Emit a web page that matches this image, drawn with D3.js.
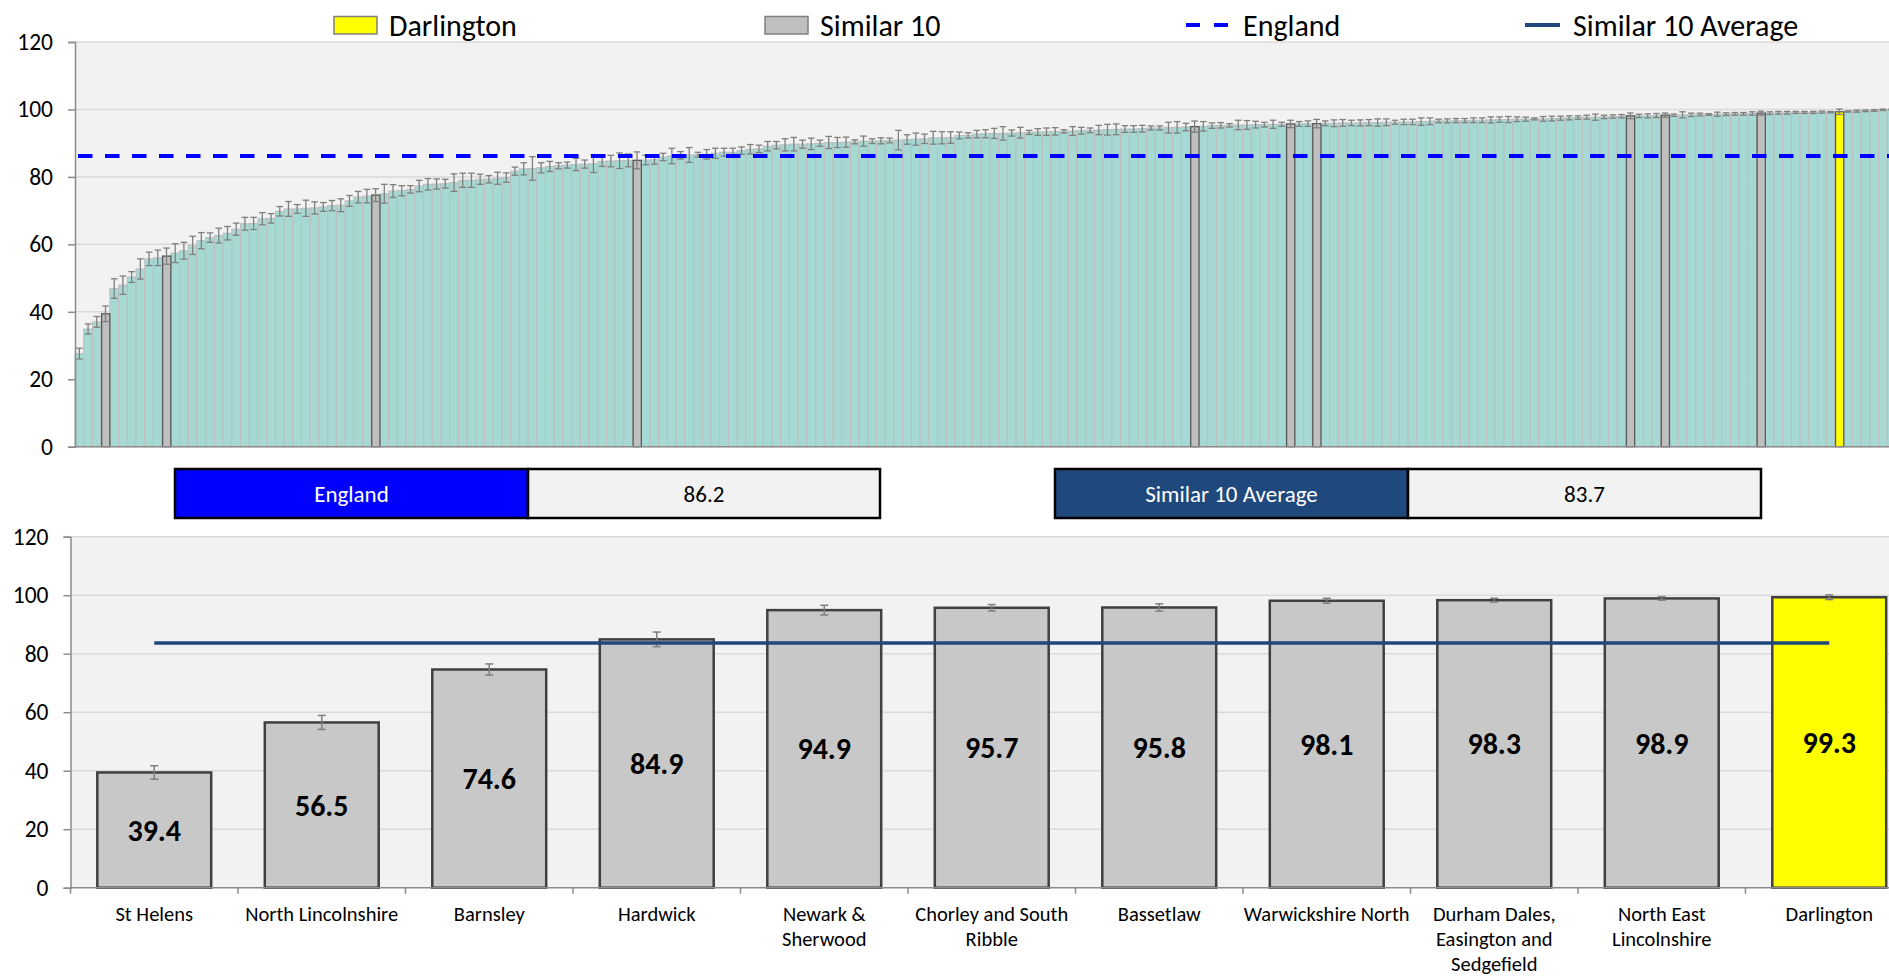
<!DOCTYPE html>
<html><head><meta charset="utf-8">
<script src="https://cdn.jsdelivr.net/npm/d3@7"></script>
<style>body{margin:0;background:#fff;}svg{display:block;}</style>
</head><body>
<svg id="chart" width="1889" height="976"></svg>
<script>
// ---------------- DATA ----------------
const allValues = [
27.6,34.9,37.0,39.4,46.9,47.9,50.3,52.7,55.7,56.0,
56.5,57.4,58.1,59.7,61.1,62.0,62.6,63.3,64.5,66.1,
66.2,67.6,67.7,69.8,70.5,70.5,70.7,70.8,71.1,71.5,
71.6,72.9,74.0,74.3,74.6,75.0,75.8,75.9,76.3,77.3,
77.8,77.9,78.0,78.3,79.0,79.0,79.3,79.3,79.6,79.8,
81.7,82.4,82.5,82.7,83.1,83.3,83.5,83.7,83.8,83.9,
84.6,84.7,84.8,84.9,84.9,85.0,85.1,85.9,86.2,86.4,
86.5,86.6,86.7,87.0,87.3,87.3,87.8,88.2,88.3,89.1,
89.4,89.5,89.7,89.7,89.8,90.0,90.2,90.2,90.3,90.4,
90.6,90.6,90.7,90.8,90.9,91.1,91.2,91.3,91.6,91.6,
91.7,92.3,92.3,92.7,92.8,92.9,92.9,93.0,93.1,93.2,
93.3,93.4,93.5,93.5,93.6,93.7,93.8,93.9,94.0,94.1,
94.2,94.2,94.3,94.5,94.5,94.6,94.7,94.8,94.9,95.0,
95.2,95.3,95.3,95.4,95.4,95.5,95.5,95.6,95.6,95.7,
95.7,95.8,95.8,95.9,95.9,96.0,96.0,96.0,96.1,96.1,
96.2,96.2,96.3,96.3,96.4,96.5,96.6,96.6,96.7,96.7,
96.8,96.8,96.9,97.0,97.0,97.1,97.1,97.2,97.2,97.3,
97.4,97.5,97.6,97.7,97.7,97.8,97.9,98.0,98.1,98.1,
98.1,98.2,98.3,98.3,98.4,98.4,98.5,98.5,98.6,98.6,
98.7,98.7,98.8,98.9,98.9,99.0,99.0,99.1,99.1,99.1,
99.2,99.2,99.3,99.4,99.5,99.6,99.7,99.9,100.0
];
const allCI = [
1.6,1.5,1.6,2.3,2.9,2.7,1.6,3.0,2.0,2.3,
2.4,2.8,2.5,2.7,2.4,1.4,2.2,2.0,1.8,1.9,
1.8,1.8,1.4,1.4,2.2,1.3,2.4,1.8,1.3,1.5,
1.9,1.6,1.7,2.0,1.9,2.8,1.9,1.5,1.1,1.7,
1.7,1.5,1.3,2.6,2.1,2.1,1.5,1.1,1.8,1.4,
1.2,1.8,3.5,1.5,1.5,0.9,0.9,1.8,1.2,2.6,
1.5,1.7,2.3,1.9,2.5,1.4,1.3,1.1,2.3,1.1,
2.2,0.7,1.4,1.5,1.2,1.2,1.1,1.4,1.1,1.4,
1.1,1.8,2.0,1.2,1.7,0.9,1.8,1.5,1.5,0.6,
1.5,0.7,0.9,0.7,2.9,1.4,1.8,1.4,1.9,1.8,
1.7,1.0,0.8,1.1,1.2,1.5,2.0,0.9,1.6,0.6,
1.0,1.1,1.1,0.5,1.3,1.0,0.7,1.4,1.6,1.6,
1.0,1.0,1.0,0.6,0.6,1.6,1.7,1.1,1.65,1.4,
0.8,0.8,0.5,1.4,1.3,1.0,0.7,1.2,0.6,1.1,
0.7,0.8,1.25,0.7,1.0,1.0,0.8,0.9,0.9,1.1,
1.0,0.6,0.8,0.8,1.1,1.0,0.5,0.6,0.6,0.6,
0.7,0.7,0.9,0.8,0.9,0.7,0.6,0.3,0.7,0.7,
0.6,0.6,0.5,0.6,0.9,0.5,0.5,0.5,0.85,0.5,
0.6,0.6,0.65,0.35,0.9,0.5,0.4,0.25,0.6,0.4,
0.4,0.4,0.5,0.6,0.4,0.4,0.4,0.3,0.3,0.3,
0.3,0.2,0.8,0.2,0.3,0.25,0.25,0.2,0.2
];
const similarNames = [
  ["St Helens"], ["North Lincolnshire"], ["Barnsley"], ["Hardwick"],
  ["Newark &", "Sherwood"], ["Chorley and South", "Ribble"], ["Bassetlaw"],
  ["Warwickshire North"], ["Durham Dales,", "Easington and", "Sedgefield"],
  ["North East", "Lincolnshire"], ["Darlington"]
];
const similarValues = [39.4, 56.5, 74.6, 84.9, 94.9, 95.7, 95.8, 98.1, 98.3, 98.9, 99.3];
const similarCI = [2.3, 2.4, 1.9, 2.5, 1.65, 1.1, 1.25, 0.85, 0.65, 0.6, 0.8];
const similarRanks = [3, 10, 34, 64, 128, 139, 142, 178, 182, 193, 202];
const englandValue = 86.2;
const similarAverage = 83.7;
const yTicks = [0, 20, 40, 60, 80, 100, 120];
const legendLabels = ["Darlington", "Similar 10", "England", "Similar 10 Average"];
const boxLabels = ["England", "Similar 10 Average"];

(function () {
// ---------------- STYLE ----------------
const FONT = "Carlito, Lato, 'Open Sans', sans-serif";
const C = {
  teal: "#a6d9d3", tealStroke: "#bdbdbd", plotBg: "#f2f2f2", grid: "#d9d9d9",
  axis: "#8c8c8c", grey: "#bfbfbf", greyStroke: "#595959", yellow: "#ffff00",
  err: "#7f7f7f", england: "#0000ff", avg: "#1f497d", barGrey: "#c8c8c8", barStroke: "#404040"
};
const svg = d3.select("#chart").style("font-family", FONT);
const darlingtonIdx = similarNames.length - 1;

// ---------------- TOP CHART ----------------
const T = {left: 75, top: 42, bottom: 446.7, step: 8.713};
const xT = d3.scaleBand().domain(d3.range(allValues.length))
  .range([T.left, T.left + allValues.length * T.step]).padding(0);
const yT = d3.scaleLinear().domain([0, 120]).range([T.bottom, T.top]);
const gT = svg.append("g");
gT.append("rect").attr("x", T.left).attr("y", T.top)
  .attr("width", xT.range()[1] - T.left).attr("height", T.bottom - T.top).attr("fill", C.plotBg);
gT.selectAll(".gT").data(yTicks.filter(d => d > 0)).join("line")
  .attr("x1", T.left).attr("x2", xT.range()[1]).attr("y1", d => yT(d)).attr("y2", d => yT(d))
  .attr("stroke", C.grid).attr("stroke-width", 1.5);
gT.selectAll(".bT").data(allValues).join("rect")
  .attr("x", (d, i) => xT(i)).attr("width", xT.bandwidth())
  .attr("y", d => yT(d)).attr("height", d => T.bottom - yT(d))
  .attr("fill", C.teal).attr("stroke", C.tealStroke).attr("stroke-width", 1);
gT.selectAll(".hT").data(similarRanks).join("rect")
  .attr("x", r => xT(r) + 0.5).attr("width", xT.bandwidth() - 0.5)
  .attr("y", r => yT(allValues[r])).attr("height", r => T.bottom - yT(allValues[r]))
  .attr("fill", (r, i) => i === darlingtonIdx ? C.yellow : C.grey)
  .attr("stroke", C.greyStroke).attr("stroke-width", 1.3);
const errT = gT.append("g").attr("stroke", C.err).attr("stroke-width", 1.3);
allValues.forEach((v, i) => {
  const cx = xT(i) + xT.bandwidth() / 2, lo = yT(v - allCI[i]), hi = yT(Math.min(v + allCI[i], 120));
  errT.append("line").attr("x1", cx).attr("x2", cx).attr("y1", lo).attr("y2", hi);
  errT.append("line").attr("x1", cx - 3.3).attr("x2", cx + 3.3).attr("y1", lo).attr("y2", lo);
  errT.append("line").attr("x1", cx - 3.3).attr("x2", cx + 3.3).attr("y1", hi).attr("y2", hi);
});
gT.append("line")
  .attr("x1", xT(0) + 3).attr("x2", xT.range()[1])
  .attr("y1", yT(englandValue)).attr("y2", yT(englandValue))
  .attr("stroke", C.england).attr("stroke-width", 4).attr("stroke-dasharray", "14.5,12.5");
gT.append("line").attr("x1", T.left).attr("x2", xT.range()[1]).attr("y1", T.bottom).attr("y2", T.bottom)
  .attr("stroke", C.axis).attr("stroke-width", 1.5);
const axT = gT.append("g").attr("transform", `translate(${T.left},0)`)
  .call(d3.axisLeft(yT).tickValues(yTicks).tickSize(7).tickPadding(15));
axT.select(".domain").attr("stroke", C.axis).attr("stroke-width", 1.5);
axT.selectAll(".tick line").attr("stroke", C.axis).attr("stroke-width", 1.5);
axT.selectAll("text").attr("font-family", FONT).attr("font-size", 23.5).attr("fill", "#000");

// Legend
const lg = svg.append("g").attr("font-size", 30);
lg.append("rect").attr("x", 334).attr("y", 16.5).attr("width", 43).attr("height", 17.5)
  .attr("fill", C.yellow).attr("stroke", "#7f7f7f").attr("stroke-width", 1.5);
lg.append("rect").attr("x", 765).attr("y", 16.5).attr("width", 43).attr("height", 17.5)
  .attr("fill", C.grey).attr("stroke", "#7f7f7f").attr("stroke-width", 1.5);
lg.append("line").attr("x1", 1186).attr("x2", 1229).attr("y1", 25).attr("y2", 25)
  .attr("stroke", C.england).attr("stroke-width", 4).attr("stroke-dasharray", "14,14");
lg.append("line").attr("x1", 1525).attr("x2", 1560).attr("y1", 25).attr("y2", 25)
  .attr("stroke", C.avg).attr("stroke-width", 4);
[389, 820, 1243, 1573].forEach((x, i) => {
  lg.append("text").attr("x", x).attr("y", 25).attr("dy", "0.35em").text(legendLabels[i]);
});

// ---------------- VALUE BOXES ----------------
const boxes = [
  {x0: 175, x1: 528, x2: 880, fill: C.england, label: boxLabels[0], value: englandValue},
  {x0: 1055, x1: 1408, x2: 1761, fill: C.avg, label: boxLabels[1], value: similarAverage}
];
const bx = svg.append("g").attr("font-size", 23);
boxes.forEach(b => {
  bx.append("rect").attr("x", b.x0).attr("y", 469).attr("width", b.x1 - b.x0).attr("height", 49)
    .attr("fill", b.fill).attr("stroke", "#000").attr("stroke-width", 2.5);
  bx.append("rect").attr("x", b.x1).attr("y", 469).attr("width", b.x2 - b.x1).attr("height", 49)
    .attr("fill", "#f2f2f2").attr("stroke", "#000").attr("stroke-width", 2.5);
  bx.append("text").attr("x", (b.x0 + b.x1) / 2).attr("y", 493.5).attr("dy", "0.35em")
    .attr("text-anchor", "middle").attr("fill", "#fff").text(b.label);
  bx.append("text").attr("x", (b.x1 + b.x2) / 2).attr("y", 493.5).attr("dy", "0.35em")
    .attr("text-anchor", "middle").attr("fill", "#000").text(d3.format(".1f")(b.value));
});

// ---------------- BOTTOM CHART ----------------
const B = {left: 70.5, top: 536.7, bottom: 887.7, step: 167.5};
const xB = d3.scaleBand().domain(d3.range(similarValues.length))
  .range([B.left, B.left + similarValues.length * B.step]).paddingInner(0.32).paddingOuter(0.16);
const yB = d3.scaleLinear().domain([0, 120]).range([B.bottom, B.top]);
const gB = svg.append("g");
gB.append("rect").attr("x", B.left).attr("y", B.top)
  .attr("width", xB.range()[1] - B.left).attr("height", B.bottom - B.top).attr("fill", C.plotBg);
gB.selectAll(".gB").data(yTicks.filter(d => d > 0)).join("line")
  .attr("x1", B.left).attr("x2", xB.range()[1]).attr("y1", d => yB(d)).attr("y2", d => yB(d))
  .attr("stroke", C.grid).attr("stroke-width", 1.5);
gB.selectAll(".bB").data(similarValues).join("rect")
  .attr("x", (d, i) => xB(i)).attr("width", xB.bandwidth())
  .attr("y", d => yB(d)).attr("height", d => B.bottom - yB(d))
  .attr("fill", (d, i) => i === darlingtonIdx ? C.yellow : C.barGrey)
  .attr("stroke", C.barStroke).attr("stroke-width", 2.5);
const errB = gB.append("g").attr("stroke", C.err).attr("stroke-width", 1.5);
similarValues.forEach((v, i) => {
  const cx = xB(i) + xB.bandwidth() / 2, lo = yB(v - similarCI[i]), hi = yB(v + similarCI[i]);
  errB.append("line").attr("x1", cx).attr("x2", cx).attr("y1", lo).attr("y2", hi);
  errB.append("line").attr("x1", cx - 4).attr("x2", cx + 4).attr("y1", lo).attr("y2", lo);
  errB.append("line").attr("x1", cx - 4).attr("x2", cx + 4).attr("y1", hi).attr("y2", hi);
});
const avgLine = d3.line().x((d, i) => xB(i) + xB.bandwidth() / 2).y(() => yB(similarAverage));
gB.append("path").datum(similarValues).attr("d", avgLine)
  .attr("fill", "none").attr("stroke", C.avg).attr("stroke-width", 3.5);
gB.selectAll(".vB").data(similarValues).join("text")
  .attr("x", (d, i) => xB(i) + xB.bandwidth() / 2).attr("y", d => yB(d / 2)).attr("dy", "0.35em")
  .attr("text-anchor", "middle").attr("font-size", 30).attr("font-weight", "bold").attr("fill", "#000")
  .text(d => d3.format(".1f")(d));
// x axis
gB.append("line").attr("x1", B.left).attr("x2", xB.range()[1]).attr("y1", B.bottom).attr("y2", B.bottom)
  .attr("stroke", C.axis).attr("stroke-width", 1.5);
gB.selectAll(".tB").data(d3.range(similarValues.length + 1)).join("line")
  .attr("x1", i => B.left + i * xB.step()).attr("x2", i => B.left + i * xB.step())
  .attr("y1", B.bottom).attr("y2", B.bottom + 6).attr("stroke", C.axis).attr("stroke-width", 1.5);
const lab = gB.append("g").attr("font-size", 20.5).attr("text-anchor", "middle");
similarNames.forEach((lines, i) => {
  lines.forEach((t, k) => {
    lab.append("text").attr("x", xB(i) + xB.bandwidth() / 2).attr("y", 914 + k * 24.7)
      .attr("dy", "0.35em").text(t);
  });
});
const axB = gB.append("g").attr("transform", `translate(${B.left},0)`)
  .call(d3.axisLeft(yB).tickValues(yTicks).tickSize(7).tickPadding(15));
axB.select(".domain").attr("stroke", C.axis).attr("stroke-width", 1.5);
axB.selectAll(".tick line").attr("stroke", C.axis).attr("stroke-width", 1.5);
axB.selectAll("text").attr("font-family", FONT).attr("font-size", 23.5).attr("fill", "#000");
})();
</script>
</body></html>
